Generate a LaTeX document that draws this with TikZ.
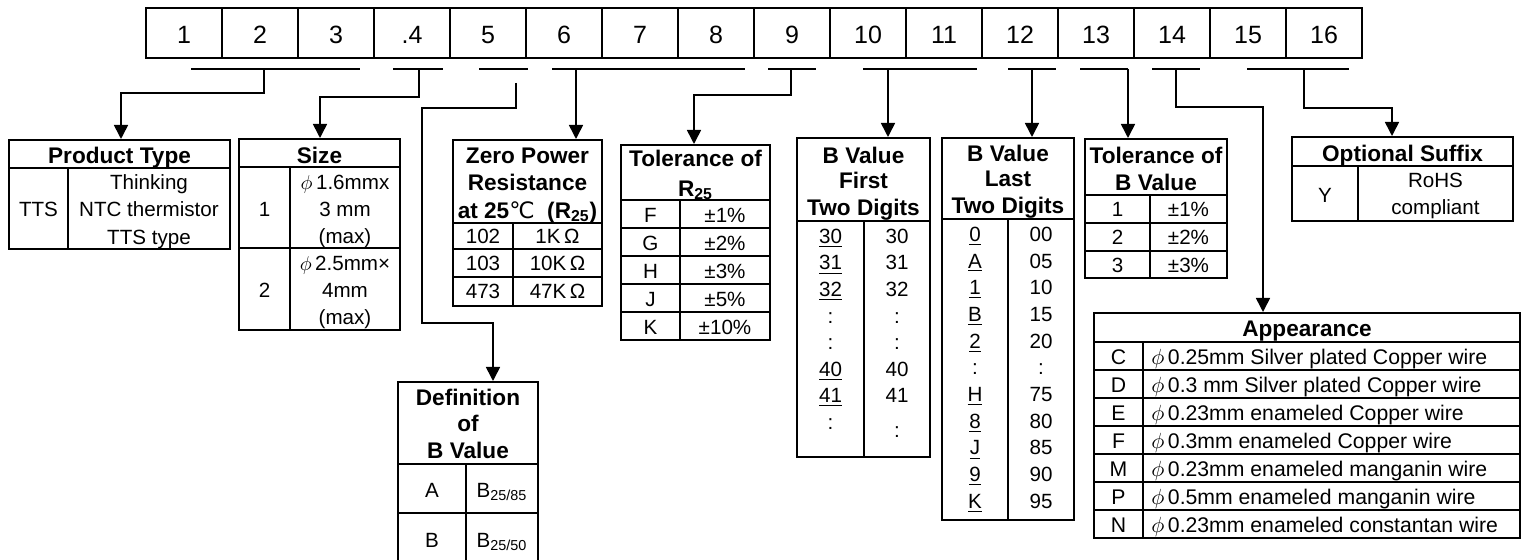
\documentclass[tikz,border=0pt]{standalone}
\usepackage{fontspec}
\setmainfont{Liberation Sans}
\newfontfamily\dejavu{DejaVu Sans}
\usetikzlibrary{positioning,arrows.meta,fit}

\begin{document}
\begin{tikzpicture}[x=0.5pt, y=-0.5pt,
		txt/.style={font=\fontsize{10.3}{12}\selectfont, inner sep=0pt, text height=7.4pt, text depth=0pt},
		wide/.style={txt, font=\fontsize{10.6}{12}\selectfont, text height=7.6pt},
		hd/.style={txt, font=\fontsize{11.3}{13}\selectfont\bfseries, text height=8.1pt},
		cell/.style={draw, line width=1pt, minimum width=38pt, minimum height=25pt, inner sep=0pt,
		             font=\fontsize{12.5}{14}\selectfont, text height=10.9pt, text depth=0pt},
		tbl/.style={draw, line width=1pt, inner sep=0pt},
		tline/.style={line width=1pt},
		brk/.style={line width=0.8pt},
		conn/.style={line width=0.8pt, -{Triangle[width=7pt,length=7pt]}}]
	\useasboundingbox (0,0) rectangle (1522,560);
	% code positions
	\foreach \i/\t in {1/1,2/2,3/3,4/.4,5/5,6/6,7/7,8/8,9/9,10/10,11/11,12/12,13/13,14/14,15/15,16/16}
		\node[cell] (c\i) at ({146+76*(\i-0.5)},33) {\t};
	\foreach \n/\a/\b/\m in {pt/191/360/264, sz/393/443/419, df/479/528/516, zp/552/745/576,
	                         tr/768/816/791, bf/863/977/888, bl/1008/1056/1032, tb/1080/1128/1128,
	                         ap/1152/1200/1176, os/1247/1349/1304}
	{
		\draw[brk] (\a,69) -- (\b,69);
		\coordinate (\n) at (\m,69);
	}

	% product type
	\node[tbl, fit={(9,140) (230,249)}] (ptype) {};
	\draw[tline] (9,168) -- (230,168) (68,168) -- (68,249);
	\node[hd] (ptype-h) at (119.5,155) {Product Type};
	\node[txt] (ptype-a) at (38.5,209) {TTS};
	\foreach \y/\t [count=\k] in {182/Thinking, 209/NTC thermistor, 237/TTS type}
		\node[txt] (ptype-b\k) at (149,\y) {\t};

	% size
	\node[tbl, fit={(239,139) (400,330)}] (size) {};
	\draw[tline] (239,167) -- (400,167) (239,248) -- (400,248) (290,167) -- (290,330);
	\node[hd] (size-h) at (319.5,155) {Size};
	\node[txt] (size-a1) at (264.5,209) {1};
	\node[txt] (size-a2) at (264.5,290) {2};
	\foreach \y/\t [count=\k] in {182/{$\phi$\,1.6mmx}, 209/3 mm, 236/(max), 263/{$\phi$\,2.5mm×}, 290/4mm, 317/(max)}
		\node[txt] (size-b\k) at (345,\y) {\t};

	% zero power resistance
	\node[tbl, fit={(453,140) (602,306)}] (zpow) {};
	\draw[tline] (453,223) -- (602,223) (453,249) -- (602,249) (453,277) -- (602,277) (513,223) -- (513,306);
	\foreach \y/\t [count=\k] in {155/Zero Power, 182/Resistance, 210/{at 25{\dejavu\mdseries ℃}\ \ (R\textsubscript{25})}}
		\node[hd] (zpow-h\k) at (527.5,\y) {\t};
	\foreach \y/\a/\b [count=\k] in {236/102/1K, 263/103/10K, 291/473/47K}
	{
		\node[txt] (zpow-a\k) at (483,\y) {\a};
		\node[txt] (zpow-b\k) at (557.5,\y) {\b\,Ω};
	}

	% tolerance of R25
	\node[tbl, fit={(621,145) (770,340)}] (tolr) {};
	\draw[tline] (621,200) -- (770,200) (680,200) -- (680,340);
	\foreach \y in {228,256,284,312} \draw[tline] (621,\y) -- (770,\y);
	\node[hd] (tolr-h1) at (695.5,158) {Tolerance of};
	\node[hd] (tolr-h2) at (695.5,188) {R\textsubscript{25}};
	\foreach \l/\v [count=\k] in {F/1, G/2, H/3, J/5, K/10}
	{
		\node[txt] (tolr-a\k) at (650.5,{187.5+28*\k}) {\l};
		\node[txt] (tolr-b\k) at (725,{187.5+28*\k}) {±\v\%};
	}

	% B value first two digits
	\node[tbl, fit={(797,138) (930,457)}] (bfirst) {};
	\draw[tline] (797,221) -- (930,221) (864,221) -- (864,457);
	\foreach \y/\t [count=\k] in {155/B Value, 180/First, 207/Two Digits}
		\node[hd] (bfirst-h\k) at (863.5,\y) {\t};
	\foreach \a/\b [count=\k] in {\underline{30}/30, \underline{31}/31, \underline{32}/32, :/:, :/:, \underline{40}/40, \underline{41}/41}
	{
		\node[txt] (bfirst-a\k) at (830.5,{209.4+26.6*\k}) {\a};
		\node[txt] (bfirst-b\k) at (897,{209.4+26.6*\k}) {\b};
	}
	\node[txt] (bfirst-a8) at (830.5,422) {:};
	\node[txt] (bfirst-b8) at (897,430) {:};

	% B value last two digits
	\node[tbl, fit={(942,138) (1074,520)}] (blast) {};
	\draw[tline] (942,219) -- (1074,219) (1008,219) -- (1008,520);
	\foreach \y/\t [count=\k] in {153/B Value, 178/Last, 205/Two Digits}
		\node[hd] (blast-h\k) at (1008,\y) {\t};
	\foreach \a/\b [count=\k] in {\underline{0}/00, \underline{A}/05, \underline{1}/10, \underline{B}/15, \underline{2}/20, :/:,
	                              \underline{H}/75, \underline{8}/80, \underline{J}/85, \underline{9}/90, \underline{K}/95}
	{
		\node[txt] (blast-a\k) at (975,{207.3+26.7*\k}) {\a};
		\node[txt] (blast-b\k) at (1041,{207.3+26.7*\k}) {\b};
	}

	% tolerance of B value
	\node[tbl, fit={(1085,139) (1227,278)}] (tolb) {};
	\draw[tline] (1085,195) -- (1227,195) (1085,223) -- (1227,223) (1085,251) -- (1227,251) (1150,195) -- (1150,278);
	\node[hd] (tolb-h1) at (1156,155) {Tolerance of};
	\node[hd] (tolb-h2) at (1156,182) {B Value};
	\foreach \v [count=\k] in {1,2,3}
	{
		\node[txt] (tolb-a\k) at (1117.5,{181.5+28*\k}) {\v};
		\node[txt] (tolb-b\k) at (1188.5,{181.5+28*\k}) {±\v\%};
	}

	% appearance
	\node[tbl, fit={(1094,313) (1520,538)}] (appear) {};
	\draw[tline] (1094,342) -- (1520,342) (1143,342) -- (1143,538);
	\foreach \y in {370,398,...,510} \draw[tline] (1094,\y) -- (1520,\y);
	\node[hd] (appear-h) at (1307,328) {Appearance};
	\foreach \l/\t [count=\k] in {C/0.25mm Silver plated Copper wire, D/0.3 mm Silver plated Copper wire,
	                              E/0.23mm enameled Copper wire, F/0.3mm enameled Copper wire,
	                              M/0.23mm enameled manganin wire, P/0.5mm enameled manganin wire,
	                              N/0.23mm enameled constantan wire}
	{
		\node[wide] (appear-a\k) at (1118.5,{329+28*\k}) {\l};
		\node[wide, anchor=west] (appear-b\k) at (1151,{329+28*\k}) {$\phi$\,\t};
	}

	% optional suffix
	\node[tbl, fit={(1292,137) (1513,221)}] (optsf) {};
	\draw[tline] (1292,166) -- (1513,166) (1358,166) -- (1358,221);
	\node[hd] (optsf-h) at (1402.5,153) {Optional Suffix};
	\node[txt] (optsf-a) at (1325,195) {Y};
	\node[txt] (optsf-b1) at (1435.5,180) {RoHS};
	\node[txt] (optsf-b2) at (1435.5,207) {compliant};

	% definition of B value
	\node[tbl, fit={(398,382) (538,562)}] (bdef) {};
	\draw[tline] (398,464) -- (538,464) (398,513) -- (538,513) (466,464) -- (466,562);
	\foreach \y/\t [count=\k] in {397/Definition, 423/of, 450/B Value}
		\node[hd] (bdef-h\k) at (468,\y) {\t};
	\node[txt] (bdef-a1) at (432,490) {A};
	\node[txt] (bdef-b1) at (502,490) {B\textsubscript{25/85}};
	\node[txt] (bdef-a2) at (432,540) {B};
	\node[txt] (bdef-b2) at (502,540) {B\textsubscript{25/50}};

	% connectors
	\draw[conn] (pt) |- (121,93) -- (121,93 |- ptype.north);
	\draw[conn] (sz) |- (320,97) -- (320,97 |- size.north);
	\draw[conn] ([yshift=-7pt]df) |- (422,108) |- (493,323) -- (493,323 |- bdef.north);
	\draw[conn] (zp) -- (zp |- zpow.north);
	\draw[conn] (tr) |- (694,95) -- (694,95 |- tolr.north);
	\draw[conn] (bf) -- (bf |- bfirst.north);
	\draw[conn] (bl) -- (bl |- blast.north);
	\draw[conn] (tb) -- (tb |- tolb.north);
	\draw[conn] (ap) |- (1263,107) -- (1263,107 |- appear.north);
	\draw[conn] (os) |- (1392,108) -- (1392,108 |- optsf.north);
\end{tikzpicture}
\end{document}
